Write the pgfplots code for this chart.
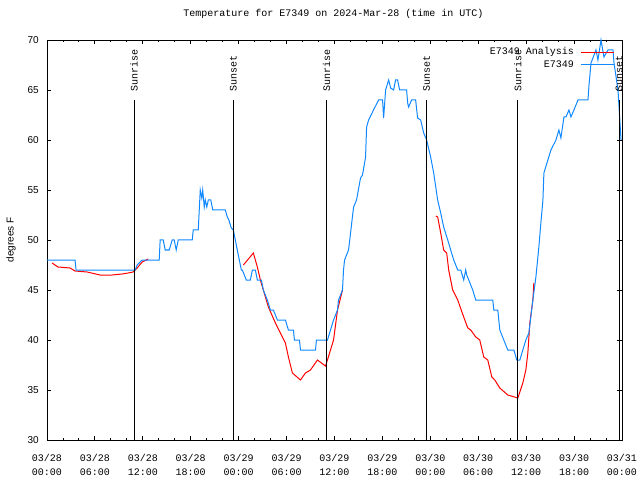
\documentclass[border=0pt]{standalone}
\usepackage{pgfplots}
\pgfplotsset{compat=1.18}
\usepackage{fontspec}
\setmainfont{Liberation Sans}
\newfontfamily\monofont{Liberation Mono}
\definecolor{anared}{RGB}{255,0,0}
\definecolor{obsblue}{RGB}{16,136,255}
\begin{document}
\begin{tikzpicture}
\begin{axis}[
  scale only axis,
  width=575pt, height=400pt,
  xmin=0, xmax=72, ymin=30, ymax=70,
  clip=false,
  axis line style={black, line width=0.9pt},
  tick style={black, line width=0.9pt},
  major tick length=4.5pt, minor tick length=2.5pt,
  tick align=inside,
  xtick={0,6,...,72},
  minor x tick num=2,
  xticklabels={{03/28\\[2pt]00:00},{03/28\\[2pt]06:00},{03/28\\[2pt]12:00},{03/28\\[2pt]18:00},
               {03/29\\[2pt]00:00},{03/29\\[2pt]06:00},{03/29\\[2pt]12:00},{03/29\\[2pt]18:00},
               {03/30\\[2pt]00:00},{03/30\\[2pt]06:00},{03/30\\[2pt]12:00},{03/30\\[2pt]18:00},
               {03/31\\[2pt]00:00}},
  xticklabel style={align=center, font=\monofont, inner sep=0pt, yshift=-14pt},
  ytick={30,35,...,70},
  yticklabel style={font=\rmfamily, inner sep=0pt, xshift=-8pt},
  /pgf/number format/assume math mode=true,
  ylabel={degrees F},
  ylabel style={at={([xshift=-36pt]axis description cs:0,0.5)}, anchor=center, font=\rmfamily},
  title={Temperature for E7349 on 2024-Mar-28 (time in UTC)},
  title style={at={([yshift=20pt,xshift=-1pt]axis description cs:0.5,1)}, anchor=center, font=\monofont},
  unbounded coords=jump,
  legend style={at={([xshift=-7pt,yshift=-7.5pt]axis description cs:1,1)}, anchor=north east,
    draw=none, fill=none, font=\monofont, inner sep=0pt, row sep=3.7pt, column sep=7pt,
    nodes={inner sep=0pt, text height=7pt, text depth=2pt}},
  legend cell align=right,
  legend plot pos=right,
  legend image code/.code={\draw[#1] (0pt,0pt) -- (33pt,0pt);},
]
% E7349 Analysis
\addplot[anared, line width=1pt] coordinates {
(0.63,47.7) (1.38,47.3) (2.89,47.2) (3.51,46.9) (5.02,46.8) (6.65,46.5) (8.15,46.5)
(9.41,46.6) (10.16,46.7) (10.79,46.8) (11.29,47.2) (11.92,47.8) (12.67,48.1)
(13.0,nan)
(24.59,47.5) (25.84,48.7) (26.34,47.3) (26.72,46) (27.09,45) (27.72,43.3) (28.60,41.7)
(29.23,40.7) (29.85,39.7) (30.23,38.3) (30.73,36.7) (31.74,36) (32.36,36.7) (32.99,37)
(33.87,38) (34.87,37.4) (35.12,38) (35.50,39) (35.88,40) (36.38,43) (37.00,45)
(38.0,nan)
(48.67,52.4) (48.92,52.3) (49.30,50.7) (49.67,49) (50.05,48.7) (50.30,47) (50.80,45)
(51.43,44) (52.18,42.3) (52.69,41.2) (53.06,41) (53.69,40.3) (54.19,40) (54.69,38.3)
(55.19,38) (55.70,36.3) (56.07,36) (56.70,35.2) (57.70,34.5) (58.96,34.2) (59.58,35.7)
(59.96,37) (60.21,38.7) (60.46,41.7) (60.84,44) (60.96,45.7)
};
\addlegendentry{E7349 Analysis}
% E7349
\addplot[obsblue, line width=1pt] coordinates {
(0.00,48) (3.51,48) (3.64,47) (11.04,47) (11.29,47.5) (11.92,48) (14.05,48) (14.17,50)
(14.55,50) (14.80,49) (15.30,49) (15.68,50) (15.93,50) (16.18,49) (16.43,50) (18.19,50)
(18.31,51) (18.94,51) (19.19,55) (19.38,54.2) (19.50,55) (19.69,53.3) (19.82,54) (20.01,53.3)
(20.20,54) (20.51,54) (20.76,53) (22.33,53) (22.58,52.3) (22.77,52) (23.08,51.2) (23.33,51)
(23.58,50) (23.83,49) (24.08,48) (24.34,47) (24.46,47) (24.96,46) (25.46,46) (25.72,47)
(26.09,47) (26.34,46) (26.84,46) (27.09,45) (27.59,44) (27.97,43) (28.35,43) (28.85,42)
(29.85,42) (30.23,41) (30.86,41) (30.98,40) (31.61,40) (31.74,39) (33.62,39) (33.74,40)
(35.12,40) (35.50,41) (35.88,42) (36.38,43) (36.50,44) (37.00,45) (37.13,47) (37.26,48)
(37.76,49) (38.01,50.7) (38.39,53.3) (38.76,54) (39.26,56.2) (39.51,56.5) (39.89,58.3)
(40.02,61.3) (40.27,62) (40.89,63) (41.52,64) (42.02,64) (42.15,62.2) (42.40,65) (42.78,66)
(43.03,65.2) (43.40,65) (43.65,66) (43.90,66) (44.16,65) (45.03,65) (45.16,63.7) (45.28,63.3)
(45.66,64) (46.16,64) (46.41,62.2) (46.79,62) (47.17,60.7) (47.54,60) (48.04,58.3) (48.42,56.7)
(48.92,54) (49.30,52.7) (49.67,51.3) (50.18,50) (50.55,49) (50.93,48) (51.43,47) (51.81,47)
(52.18,46) (52.43,47) (52.56,46.5) (52.81,46) (53.31,45) (53.69,44) (55.82,44) (55.95,43)
(56.45,43) (56.70,41) (57.20,40) (57.70,39) (58.46,39) (58.83,38) (59.21,38) (59.58,39)
(59.96,40) (60.34,40.7) (60.84,44) (61.22,46.3) (61.59,49.3) (61.84,51.7) (62.10,54)
(62.22,56.7) (63.10,59) (63.73,60) (64.10,61) (64.35,60.2) (64.73,62.3) (64.98,62.3)
(65.36,63) (65.61,62.3) (65.98,63) (66.49,64) (67.74,64) (67.87,65.5) (68.12,67.7)
(68.74,69) (68.99,68) (69.37,70) (69.74,68.3) (70.24,69) (70.87,69) (71.00,67.7)
(71.50,65) (71.88,60)
};
\addlegendentry{E7349}
% sunrise / sunset markers
\addplot[black, line width=0.9pt, forget plot] coordinates {(10.91,30) (10.91,64)};
\addplot[black, line width=0.9pt, forget plot] coordinates {(23.33,30) (23.33,64)};
\addplot[black, line width=0.9pt, forget plot] coordinates {(35.00,30) (35.00,64)};
\addplot[black, line width=0.9pt, forget plot] coordinates {(47.54,30) (47.54,64)};
\addplot[black, line width=0.9pt, forget plot] coordinates {(58.96,30) (58.96,64)};
\addplot[black, line width=0.9pt, forget plot] coordinates {(71.63,30) (71.63,64)};
\node[rotate=90, anchor=west, inner sep=0pt, font=\monofont] at (axis cs:10.91,64.8) {Sunrise};
\node[rotate=90, anchor=west, inner sep=0pt, font=\monofont] at (axis cs:23.33,64.8) {Sunset};
\node[rotate=90, anchor=west, inner sep=0pt, font=\monofont] at (axis cs:35.00,64.8) {Sunrise};
\node[rotate=90, anchor=west, inner sep=0pt, font=\monofont] at (axis cs:47.54,64.8) {Sunset};
\node[rotate=90, anchor=west, inner sep=0pt, font=\monofont] at (axis cs:58.96,64.8) {Sunrise};
\node[rotate=90, anchor=west, inner sep=0pt, font=\monofont] at (axis cs:71.63,64.8) {Sunset};
\end{axis}
\pgfresetboundingbox
\path (-47pt,-40pt) rectangle (593pt,440pt);
\end{tikzpicture}
\end{document}
